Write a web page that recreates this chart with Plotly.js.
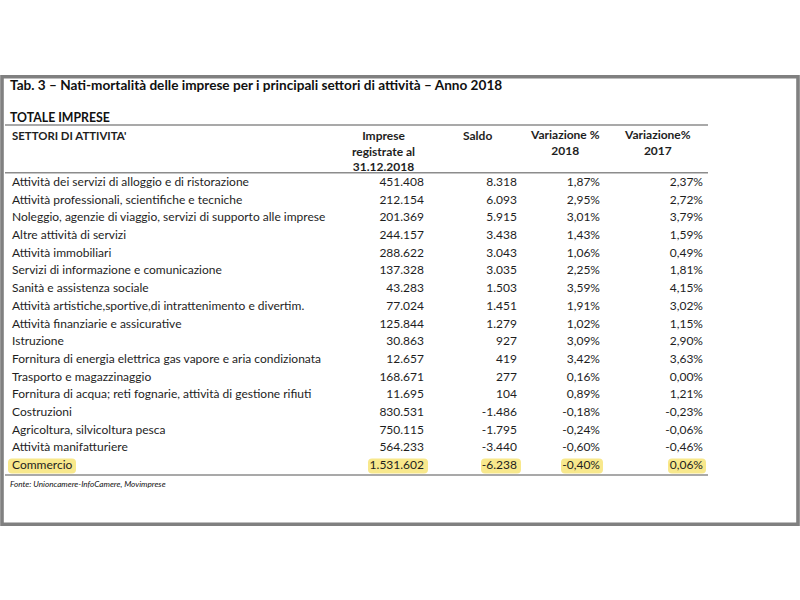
<!DOCTYPE html>
<html><head><meta charset="utf-8">
<script src="https://cdn.plot.ly/plotly-3.0.1.min.js"></script>
<style>html,body{margin:0;padding:0;background:#fff;} #chart{width:800px;height:600px;}</style>
</head><body><div id="chart"></div>
<script>
// ---- data ----
const tableTitle = 'Tab. 3 – Nati-mortalità delle imprese per i principali settori di attività – Anno 2018';
const subtitle = 'TOTALE IMPRESE';
const columnHeaders = ["SETTORI DI ATTIVITA'", 'Imprese<br>registrate al<br>31.12.2018', 'Saldo', 'Variazione %<br>2018', 'Variazione%<br>2017'];
const sectors = [
  'Attività dei servizi di alloggio e di ristorazione',
  'Attività professionali, scientifiche e tecniche',
  'Noleggio, agenzie di viaggio, servizi di supporto alle imprese',
  'Altre attività di servizi',
  'Attività immobiliari',
  'Servizi di informazione e comunicazione',
  'Sanità e assistenza sociale',
  'Attività artistiche,sportive,di intrattenimento e divertim.',
  'Attività finanziarie e assicurative',
  'Istruzione',
  'Fornitura di energia elettrica gas vapore e aria condizionata',
  'Trasporto e magazzinaggio',
  'Fornitura di acqua; reti fognarie, attività di gestione rifiuti',
  'Costruzioni',
  'Agricoltura, silvicoltura pesca',
  'Attività manifatturiere',
  'Commercio'
];
const registered = [451408, 212154, 201369, 244157, 288622, 137328, 43283, 77024, 125844, 30863, 12657, 168671, 11695, 830531, 750115, 564233, 1531602];
const balance = [8318, 6093, 5915, 3438, 3043, 3035, 1503, 1451, 1279, 927, 419, 277, 104, -1486, -1795, -3440, -6238];
const change2018 = [1.87, 2.95, 3.01, 1.43, 1.06, 2.25, 3.59, 1.91, 1.02, 3.09, 3.42, 0.16, 0.89, -0.18, -0.24, -0.60, -0.40];
const change2017 = [2.37, 2.72, 3.79, 1.59, 0.49, 1.81, 4.15, 3.02, 1.15, 2.90, 3.63, 0.00, 1.21, -0.23, -0.06, -0.46, 0.06];
const highlightedSector = 'Commercio';
const sourceNote = 'Fonte: Unioncamere-InfoCamere, Movimprese';

// ---- formatting ----
function fmtInt(n) {
  const s = Math.abs(n).toString().replace(/\B(?=(\d{3})+(?!\d))/g, '.');
  return (n < 0 ? '-' : '') + s;
}
function fmtPct(v) {
  return (v < 0 ? '-' : '') + Math.abs(v).toFixed(2).replace('.', ',') + '%';
}

// ---- layout constants (pixels) ----
const W = 800, H = 600;
const FONT = 'Lato, "Open Sans", sans-serif';
const TXT = '#1e1e1e';
const rowTop = 183, rowStep = 17.69;
const labelX = 12;
const colRight = [424, 517, 600, 703];
const px = x => x / W;
const py = y => 1 - y / H;

const rows = sectors.map((_, i) => i);
const bodySize = 12;

function colTrace(xPos, texts, pos) {
  return {
    type: 'scatter', mode: 'text',
    x: rows.map(() => xPos), y: rows, text: texts,
    textposition: pos, cliponaxis: false, hoverinfo: 'skip',
    textfont: {family: FONT, size: bodySize, color: TXT}
  };
}

const traces = [
  colTrace(labelX, sectors, 'middle right'),
  colTrace(colRight[0], registered.map(fmtInt), 'middle left'),
  colTrace(colRight[1], balance.map(fmtInt), 'middle left'),
  colTrace(colRight[2], change2018.map(fmtPct), 'middle left'),
  colTrace(colRight[3], change2017.map(fmtPct), 'middle left')
];

// highlight boxes for the highlighted row
const hi = sectors.indexOf(highlightedSector);
const hiYellow = '#f8e88c';
function roundRect(x0, x1, y0, y1) {
  const rx = 4, ry = 4 / rowStep;
  return `M ${x0 + rx},${y0} L ${x1 - rx},${y0} Q ${x1},${y0} ${x1},${y0 + ry} L ${x1},${y1 - ry} Q ${x1},${y1} ${x1 - rx},${y1} L ${x0 + rx},${y1} Q ${x0},${y1} ${x0},${y1 - ry} L ${x0},${y0 + ry} Q ${x0},${y0} ${x0 + rx},${y0} Z`;
}
const hiSpans = [[8, 76], [368, 428], [481, 521], [561, 603], [668, 706]];
const shapes = hiSpans.map(s => ({
  type: 'path', xref: 'x', yref: 'y', layer: 'below',
  path: roundRect(s[0], s[1], hi - 0.42, hi + 0.42),
  fillcolor: hiYellow, line: {width: 0}
}));

// rules
const ruleColor = '#8c8c8c';
[125, 172.7, 475].forEach(y => shapes.push({
  type: 'line', xref: 'x', yref: 'paper', x0: 5, x1: 708, y0: py(y), y1: py(y),
  line: {color: ruleColor, width: 1.6}
}));
// frame
shapes.push({
  type: 'rect', xref: 'paper', yref: 'paper',
  x0: px(2), x1: px(798), y0: py(76.8), y1: py(524.2),
  line: {color: '#808080', width: 3.6}, fillcolor: 'rgba(0,0,0,0)'
});

const hdrFont = {family: FONT, size: 12, color: TXT};
const annotations = [
  {text: '<b>' + tableTitle + '</b>', x: px(8), y: py(85), xanchor: 'left', yanchor: 'middle',
   font: {family: FONT, size: 13.6, color: '#111'}},
  {text: '<b>' + subtitle + '</b>', x: px(8), y: py(117), xanchor: 'left', yanchor: 'middle',
   font: {family: FONT, size: 12.3, color: '#111'}},
  {text: '<b>' + columnHeaders[0] + '</b>', x: px(10), y: py(135), xanchor: 'left', yanchor: 'middle',
   font: {family: FONT, size: 11.4, color: TXT}},
  {text: '<b>' + columnHeaders[1] + '</b>', x: px(383), y: py(151), xanchor: 'center', yanchor: 'middle', font: hdrFont},
  {text: '<b>' + columnHeaders[2] + '</b>', x: px(477.5), y: py(135), xanchor: 'center', yanchor: 'middle', font: hdrFont},
  {text: '<b>' + columnHeaders[3] + '</b>', x: px(565), y: py(143), xanchor: 'center', yanchor: 'middle', font: hdrFont},
  {text: '<b>' + columnHeaders[4] + '</b>', x: px(657), y: py(143), xanchor: 'center', yanchor: 'middle', font: hdrFont},
  {text: '<i>' + sourceNote + '</i>', x: px(8), y: py(484), xanchor: 'left', yanchor: 'middle',
   font: {family: FONT, size: 8.2, color: '#111'}}
].map(a => Object.assign({xref: 'paper', yref: 'paper', showarrow: false, align: 'center'}, a));

const layout = {
  width: W, height: H,
  margin: {l: 0, r: 0, t: 0, b: 0, pad: 0},
  paper_bgcolor: '#fff', plot_bgcolor: '#fff',
  showlegend: false,
  xaxis: {range: [0, W], visible: false, fixedrange: true},
  yaxis: {range: [(H - rowTop) / rowStep, -rowTop / rowStep], visible: false, fixedrange: true},
  shapes: shapes,
  annotations: annotations,
  font: {family: FONT}
};

Plotly.newPlot('chart', traces, layout, {staticPlot: true, displayModeBar: false});
</script>
</body></html>
